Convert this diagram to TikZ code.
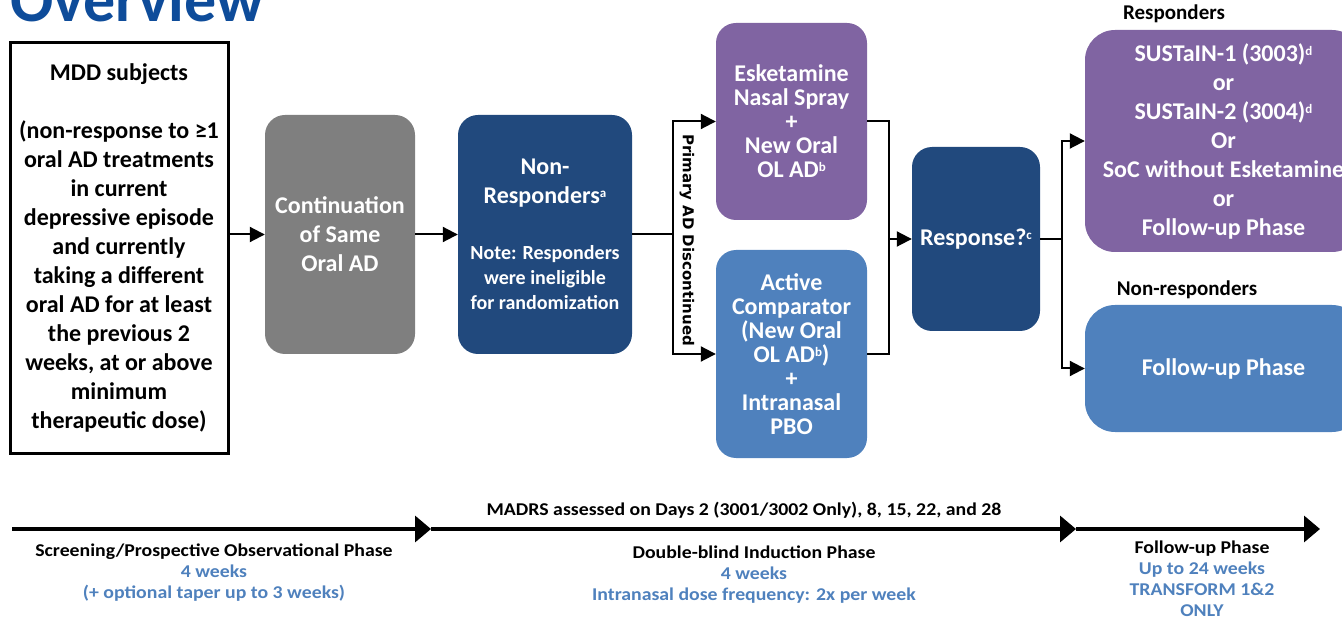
\documentclass[tikz,border=0pt]{standalone}
\usepackage{fontspec}
\setmainfont{Carlito}
\newfontfamily\widefont{Carlito}[FakeStretch=1.1]
\newfontfamily\dejavu{DejaVu Sans}
\usetikzlibrary{arrows.meta,positioning}
\definecolor{purplebox}{RGB}{128,100,162}
\definecolor{lightbluebox}{RGB}{79,129,189}
\definecolor{darkbluebox}{RGB}{33,73,125}
\definecolor{graybox}{RGB}{127,127,127}
\definecolor{titleblue}{RGB}{14,76,154}
\definecolor{weekblue}{RGB}{79,129,189}
\newcommand\notefont{\fontsize{20}{25}\selectfont}
\newcommand\supmark[1]{\raisebox{6pt}{\fontsize{13}{13}\selectfont #1}}
\begin{document}
\begin{tikzpicture}[x=1pt,y=-1pt,
	box/.style={rounded corners=20pt,text=white,align=center,inner sep=0pt,font=\fontsize{24}{29}\selectfont\bfseries},
	conn/.style={line width=2pt,-{Triangle[length=15pt,width=15pt]}},
	wire/.style={line width=2pt},
	timeline/.style={line width=3.5pt,-{Triangle[length=16pt,width=26pt]}},
	phase/.style={align=center,inner sep=0pt,font=\widefont\fontsize{18}{21}\selectfont\bfseries},
	group/.style={inner sep=0pt,font=\fontsize{21}{21}\selectfont\bfseries}]
	\useasboundingbox (0,0) rectangle (1342,620);
	\node[anchor=base west,inner sep=0pt,text=titleblue,font=\fontsize{64}{64}\selectfont\bfseries] (title) at (10,22) {Overview};
	% boxes
	\node[draw,line width=3pt,align=center,inner sep=0pt,minimum width=218pt,minimum height=410pt,font=\fontsize{24}{29}\selectfont\bfseries] (mdd) at (119,248)
		{MDD subjects\\[29pt](non-response to ≥1\\oral AD treatments\\in current\\depressive episode\\and currently\\taking a different\\oral AD for at least\\the previous 2\\weeks, at or above\\minimum\\therapeutic dose)};
	\node[box,fill=graybox,minimum width=150pt,minimum height=239pt] (cont) at (340,234.5) {Continuation\\of Same\\Oral AD};
	\node[box,fill=darkbluebox,minimum width=174pt,minimum height=239pt] (nonresp) at (545,234.5)
		{Non-\\Responders\supmark{a}\\[27pt]{\notefont Note: Responders}\\[-4pt]{\notefont were ineligible}\\[-4pt]{\notefont for randomization}};
	\node[box,fill=purplebox,minimum width=151pt,minimum height=197pt,font=\fontsize{24}{24}\selectfont\bfseries] (esk) at (791.5,121.5)
		{Esketamine\\Nasal Spray\\+\\New Oral\\OL AD\supmark{b}};
	\node[box,fill=lightbluebox,minimum width=151pt,minimum height=208pt,font=\fontsize{24}{24}\selectfont\bfseries] (active) at (791.5,354)
		{Active\\Comparator\\(New Oral\\OL AD\supmark{b})\\+\\Intranasal\\PBO};
	\node[box,fill=darkbluebox,minimum width=128pt,minimum height=184pt] (resp) at (976,239) {Response?\supmark{c}};
	\node[box,rounded corners=30pt,fill=purplebox,minimum width=277pt,minimum height=222pt] (sustain) at (1223.5,141)
		{SUSTaIN-1 (3003)\supmark{d}\\or\\SUSTaIN-2 (3004)\supmark{d}\\Or\\SoC without Esketamine\\or\\Follow-up Phase};
	\node[box,rounded corners=30pt,fill=lightbluebox,minimum width=277pt,minimum height=127pt] (followup) at (1223.5,368.5) {Follow-up Phase};
	\node[group] (responders) at (1174,14) {Responders};
	\node[group] (nonresponders) at (1187,290) {Non-responders};
	\node[rotate=-90,inner sep=0pt,font=\dejavu\fontsize{15}{15}\selectfont\bfseries] (discont) at (687,240) {Primary AD Discontinued};
	% connectors
	\coordinate (split) at (673,234.5);
	\coordinate (merge) at (889,239);
	\coordinate (branch) at (1062,239);
	\draw[conn] (mdd.east |- cont.west) -- (cont.west);
	\draw[conn] (cont) -- (nonresp);
	\draw[wire] (nonresp.east) -- (split);
	\draw[conn] (split) |- (esk.west);
	\draw[conn] (split) |- (active.west);
	\draw[wire] (esk.east) -| (merge);
	\draw[wire] (active.east) -| (merge);
	\draw[conn] (merge) -- (resp.west);
	\draw[wire] (resp.east |- branch) -- (branch);
	\draw[conn] (branch) |- (sustain.west);
	\draw[conn] (branch) |- (followup.west);
	% timeline
	\coordinate (t0) at (12,529);
	\coordinate (t1) at (431,529);
	\coordinate (t2) at (1076,529);
	\coordinate (t3) at (1320,529);
	\draw[timeline] (t0) -- (t1);
	\draw[timeline] (t1) -- (t2);
	\draw[timeline] (t2) -- (t3);
	\node[phase] (madrs) at (744,510) {MADRS assessed on Days 2 (3001/3002 Only), 8, 15, 22, and 28};
	\node[phase] (screen) at (214,573) {Screening/Prospective Observational Phase\\\color{weekblue}4 weeks\\\color{weekblue}(+ optional taper up to 3 weeks)};
	\node[phase] (induction) at (754,575) {Double-blind Induction Phase\\\color{weekblue}4 weeks\\\color{weekblue}Intranasal dose frequency: 2x per week};
	\node[phase] (fuphase) at (1202,579) {Follow-up Phase\\\color{weekblue}Up to 24 weeks\\\color{weekblue}TRANSFORM 1\&2\\\color{weekblue}ONLY};
\end{tikzpicture}
\end{document}
